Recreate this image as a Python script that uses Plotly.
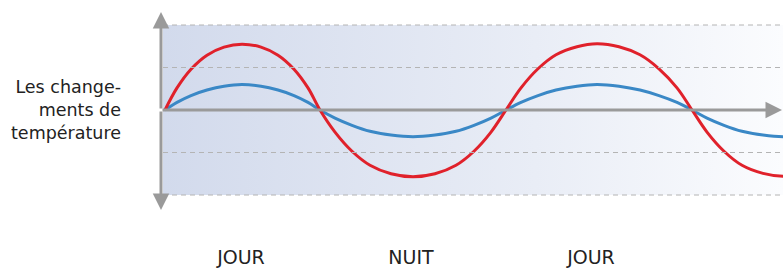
import plotly.graph_objects as go

# ---- data ----
red_x = [165, 177, 191, 207, 224, 242, 261, 278, 294, 308, 320,
         335, 352, 370, 391, 413, 435, 456, 474, 491, 506,
         521, 538, 556, 577, 597, 619, 640, 659, 677, 692,
         707, 724, 742, 763, 785, 805]
red_y = [0, 0.52, 0.96, 1.29, 1.48, 1.55, 1.48, 1.29, 0.96, 0.52, 0,
         -0.52, -0.97, -1.3, -1.5, -1.57, -1.5, -1.3, -0.97, -0.52, 0,
         0.52, 0.97, 1.3, 1.49, 1.56, 1.49, 1.3, 0.97, 0.52, 0,
         -0.52, -0.97, -1.3, -1.49, -1.56, -1.49]
blue_x = red_x
blue_y = [0, 0.18, 0.34, 0.47, 0.56, 0.6, 0.56, 0.47, 0.34, 0.18, 0,
          -0.19, -0.36, -0.5, -0.59, -0.63, -0.59, -0.5, -0.36, -0.19, 0,
          0.18, 0.34, 0.47, 0.56, 0.6, 0.56, 0.47, 0.34, 0.18, 0,
          -0.19, -0.36, -0.5, -0.59, -0.63, -0.59]
period_labels = ["JOUR", "NUIT", "JOUR"]
period_x = [241, 411, 591]
y_title = "Les change-<br>ments de<br>température"
grid_levels = [2, 1, -1, -2]

X0, X1 = 0, 783
Y_TOP, Y_BOT = 110 / 42.5, -160 / 42.5
PLOT_L = 163

FONT = "DejaVu Sans"
fig = go.Figure()

# gradient background band
fig.add_trace(go.Scatter(
    x=[PLOT_L, X1, X1, PLOT_L, PLOT_L], y=[2, 2, -2, -2, 2],
    mode="lines", line=dict(width=0), fill="toself",
    fillgradient=dict(type="horizontal",
                      colorscale=[[0, "#d2daec"], [0.6, "#e9edf6"], [1, "#fbfcfe"]]),
    hoverinfo="skip", showlegend=False))

for g in grid_levels:
    fig.add_shape(type="line", x0=PLOT_L, x1=X1, y0=g, y1=g,
                  line=dict(color="#b4b4b4", width=1, dash="5px,4px"), layer="above")

fig.add_trace(go.Scatter(x=blue_x, y=blue_y, mode="lines", line_shape="spline",
                         line=dict(color="#3a88c6", width=3), showlegend=False,
                         hoverinfo="skip"))
fig.add_trace(go.Scatter(x=red_x, y=red_y, mode="lines", line_shape="spline",
                         line=dict(color="#e0212b", width=3), showlegend=False,
                         hoverinfo="skip"))

# axes arrows
arrow = dict(showarrow=True, arrowhead=2, arrowsize=1.1, arrowwidth=3,
             arrowcolor="#9a9a9a", axref="x", ayref="y", xref="x", yref="y", text="")
fig.add_annotation(x=X1 - 1, y=0, ax=161, ay=0, **arrow)
fig.add_annotation(x=161, y=(110 - 12) / 42.5, ax=161, ay=0, **arrow)
fig.add_annotation(x=161, y=-(210 - 110) / 42.5, ax=161, ay=0, **arrow)

fig.add_annotation(x=123, y=0, xref="x", yref="y", text=y_title, showarrow=False,
                   xanchor="right", yanchor="middle", align="right",
                   font=dict(family=FONT, size=17.5, color="#222222"))

fig.add_trace(go.Scatter(x=period_x, y=[-(259 - 110) / 42.5] * 3, mode="text",
                         text=period_labels, textposition="middle center",
                         textfont=dict(family=FONT, size=19, color="#222222"),
                         showlegend=False, hoverinfo="skip"))

fig.update_layout(width=783, height=270, margin=dict(l=0, r=0, t=0, b=0),
                  paper_bgcolor="white", plot_bgcolor="white",
                  xaxis=dict(range=[X0, X1], visible=False, fixedrange=True),
                  yaxis=dict(range=[Y_BOT, Y_TOP], visible=False, fixedrange=True))
fig.write_html("out.html", config={"displayModeBar": False},
               post_script="document.body.style.margin='0';document.body.style.overflow='hidden';")
